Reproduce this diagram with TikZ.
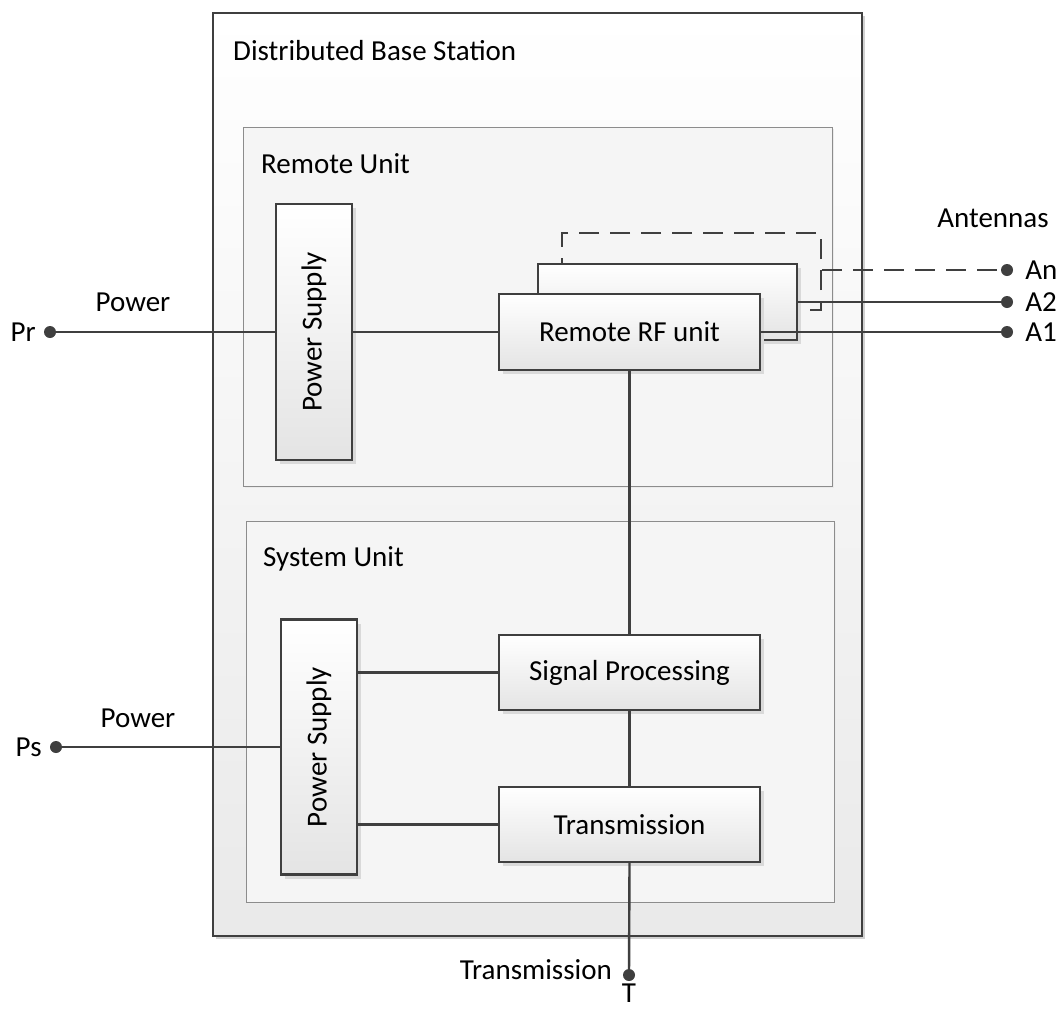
\documentclass[tikz,border=0pt]{standalone}
\usepackage{fontspec}
\setmainfont{Carlito}
\usetikzlibrary{positioning,shadows}
\definecolor{ink}{HTML}{3F3F3F}
\definecolor{frame}{HTML}{8C8C8C}
\definecolor{pale}{HTML}{F5F5F5}
\definecolor{shade}{HTML}{E4E4E4}
\tikzset{
  txt/.style={font=\fontsize{29}{34}\selectfont,inner sep=0pt,text=black},
  wire/.style={draw=ink,line width=2.4pt},
  dashwire/.style={wire,dash pattern=on 20pt off 11pt},
  station/.style={draw=ink,line width=2.5pt,top color=white,bottom color=shade!80,
    drop shadow={shadow xshift=3pt,shadow yshift=-3pt,fill=black!18,opacity=1}},
  unitbox/.style={draw=frame,line width=1pt,fill=pale,
    drop shadow={shadow xshift=2pt,shadow yshift=-2pt,fill=black!8,opacity=1}},
  block/.style={draw=ink,line width=2.4pt,top color=white,bottom color=shade,
    drop shadow={shadow xshift=4pt,shadow yshift=-4pt,fill=black!15,opacity=1},
    inner sep=0pt,font=\fontsize{29}{34}\selectfont},
  ghost/.style={draw=ink,line width=2.4pt,fill=pale,dash pattern=on 20pt off 11pt,inner sep=0pt},
  term/.style={circle,fill=ink,inner sep=0pt,minimum size=12pt}
}
\begin{document}
\begin{tikzpicture}[x=1pt,y=-1pt]
  \path[use as bounding box,fill=white] (0,0) rectangle (1064,1010);
  % containers
  \node[station,minimum width=649,minimum height=923] (dbs) at (537.5,474.5) {};
  \node[txt,anchor=west] at (233,51) {Distributed Base Station};
  \node[unitbox,minimum width=589,minimum height=359] (remote) at (537.5,306.5) {};
  \node[txt,anchor=west] at (261,164) {Remote Unit};
  \node[unitbox,minimum width=588,minimum height=381] (system) at (540,711.5) {};
  \node[txt,anchor=west] at (263,559) {System Unit};
  % remote unit
  \node[block,minimum width=76,minimum height=256] (psr) at (314,332) {};
  \node[txt,rotate=90] at (psr) {Power Supply};
  \node[ghost,minimum width=259,minimum height=77] (rf3) at (691.5,271.5) {};
  \node[block,minimum width=259,minimum height=76] (rf2) at (667.5,302) {};
  \node[block,minimum width=261,minimum height=76] (rf) at (629.5,332) {Remote RF unit};
  % system unit
  \node[block,minimum width=76,minimum height=255] (pss) at (319,747) {};
  \node[txt,rotate=90] at (pss) {Power Supply};
  \node[block,minimum width=261,minimum height=75] (sp) at (629.5,672.5) {Signal Processing};
  \node[block,minimum width=261,minimum height=75] (tr) at (629.5,824.5) {Transmission};
  % terminals
  \node[term] (pr) at (50,332) {};
  \node[txt,left=8pt of pr] {Pr};
  \node[txt] at (133,302) {Power};
  \node[term] (ps) at (56,747) {};
  \node[txt,left=8pt of ps] {Ps};
  \node[txt] at (138,718) {Power};
  \node[term] (an) at (1007,270) {};
  \node[txt,right=12pt of an] {An};
  \node[term] (a2) at (1007,302) {};
  \node[txt,right=12pt of a2] {A2};
  \node[term] (a1) at (1007,332) {};
  \node[txt,right=12pt of a1] {A1};
  \node[txt] at (993,218) {Antennas};
  \node[term] (t) at (629,975) {};
  \node[txt,anchor=east] at (612,970) {Transmission};
  \node[txt,below=2pt of t] {T};
  % connectors
  \draw[wire] (pr) -- (psr.west);
  \draw[wire] (psr.east) -- (rf.west);
  \draw[dashwire] (rf3.east |- an) -- (an);
  \draw[wire] (rf2.east |- a2) -- (a2);
  \draw[wire] (rf.east) -- (a1);
  \draw[wire] (rf.south) -- (sp.north);
  \draw[wire] (ps) -- (pss.west);
  \draw[wire] (pss.east |- sp) -- (sp.west);
  \draw[wire] (pss.east |- tr) -- (tr.west);
  \draw[wire] (sp.south) -- (tr.north);
  \draw[wire] (tr.south) -- (t);
\end{tikzpicture}
\end{document}
